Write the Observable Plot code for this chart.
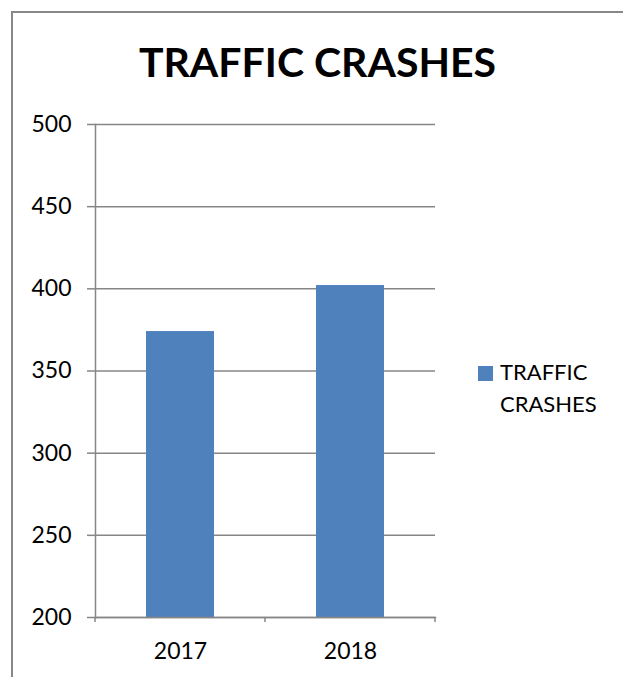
<!DOCTYPE html>
<html>
<head>
<meta charset="utf-8">
<script src="https://cdn.jsdelivr.net/npm/d3@7"></script>
<script src="https://cdn.jsdelivr.net/npm/@observablehq/plot@0.6"></script>
<style>
  html, body { margin: 0; padding: 0; background: #fff; overflow: hidden; }
  #wrap { position: relative; width: 623px; height: 677px; overflow: hidden; background: #fff; font-family: Lato, "Open Sans", sans-serif; }
  .fline { position: absolute; background: #878787; }
  #ftop { left: 11px; top: 11px; width: 612px; height: 2px; }
  #fleft { left: 11px; top: 11px; width: 2px; height: 666px; }
  #title { position: absolute; left: 6px; top: 40px; width: 623px; text-align: center; font-weight: bold; font-size: 41px; line-height: 44px; color: #000; white-space: nowrap; }
  #chart { position: absolute; left: 0; top: 100px; }
  #legend { position: absolute; left: 478px; top: 356px; font-size: 22px; line-height: 32px; color: #000; }
  #legend .sw { position: absolute; left: 0; top: 10px; width: 15px; height: 15px; }
  #legend .lbl { position: absolute; left: 22px; top: 0; white-space: nowrap; }
</style>
</head>
<body>
<div id="wrap">
  <div class="fline" id="ftop"></div>
  <div class="fline" id="fleft"></div>
  <div id="title"></div>
  <div id="chart"></div>
  <div id="legend"><div class="sw"></div><div class="lbl"></div></div>
</div>
<script>
const chartTitle = "TRAFFIC CRASHES";
const seriesName = "TRAFFIC CRASHES";
const years = ["2017", "2018"];
const crashes = [374, 402];
const yTicks = [200, 250, 300, 350, 400, 450, 500];
const barColor = "#4F81BD";
const gridColor = "#868686";

const data = years.map((y, i) => ({year: y, value: crashes[i]}));

document.getElementById("title").textContent = chartTitle;
document.querySelector("#legend .sw").style.background = barColor;
document.querySelector("#legend .lbl").innerHTML = seriesName.split(" ").join("<br>");

function boundaryTicks(...args) {
  const dims = args.find(a => a && typeof a === "object" && a.marginLeft !== undefined && a.width !== undefined);
  const g = d3.create("svg:g").attr("stroke", gridColor).attr("stroke-width", 1.5);
  const n = years.length;
  const x0 = dims.marginLeft, x1 = dims.width - dims.marginRight;
  const yb = dims.height - dims.marginBottom;
  for (let i = 0; i <= n; i++) {
    const xx = x0 + (x1 - x0) * i / n;
    g.append("line").attr("x1", xx).attr("x2", xx).attr("y1", yb).attr("y2", yb + 5);
  }
  return g.node();
}

const plot = Plot.plot({
  width: 623,
  height: 577,
  marginTop: 24,
  marginBottom: 60,
  marginLeft: 95,
  marginRight: 188,
  style: {fontFamily: "Lato, 'Open Sans', sans-serif", fontSize: "23px", color: "#000", background: "transparent"},
  x: {domain: years, paddingInner: 0.6, paddingOuter: 0.3, label: null},
  y: {domain: [200, 500], label: null},
  marks: [
    Plot.gridY(yTicks, {stroke: gridColor, strokeOpacity: 1, strokeWidth: 1.5}),
    Plot.barY(data, {x: "year", y1: 200, y2: "value", fill: barColor}),
    Plot.frame({anchor: "left", stroke: gridColor, strokeWidth: 1.5}),
    Plot.frame({anchor: "bottom", stroke: gridColor, strokeWidth: 1.5}),
    Plot.axisY(yTicks, {tickSize: 8, tickPadding: 16, stroke: gridColor, strokeWidth: 1.5, fill: "#000", label: null}),
    Plot.axisX({tickSize: 0, tickPadding: 25, fill: "#000", label: null}),
    boundaryTicks
  ]
});
document.getElementById("chart").appendChild(plot);
</script>
</body>
</html>
